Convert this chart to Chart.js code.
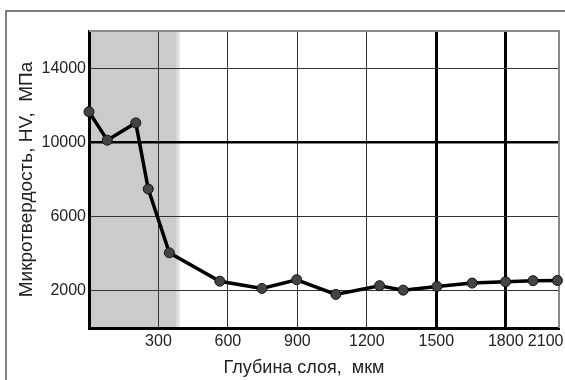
<!DOCTYPE html>
<html>
<head>
<meta charset="utf-8">
<script src="https://cdn.jsdelivr.net/npm/chart.js@4/dist/chart.umd.min.js"></script>
<style>
  html, body { margin: 0; padding: 0; background: #fff; }
</style>
</head>
<body>
<canvas id="hvChart" width="565" height="380"></canvas>
<script>
// depth of the layer, um, and microhardness HV, MPa
var depth    = [0, 79, 202, 256, 347, 565, 747, 897, 1066, 1255, 1357, 1503, 1655, 1799, 1918, 2023];
var hardness = [11650, 10120, 11050, 7490, 4050, 2520, 2130, 2600, 1810, 2280, 2040, 2240, 2420, 2490, 2550, 2560];

var xTicks = [300, 600, 900, 1200, 1500, 1800, 2100];
var yTicks = [2000, 6000, 10000, 14000];
var heavyX = [1500, 1800];
var heavyY = [10000];
var shadeEnd = 390;   // hardened layer boundary
var xMax = 2030;

Chart.defaults.font.family = '"Liberation Sans", Arial, sans-serif';
Chart.defaults.color = '#222';

// outer frame, grey hardened zone and top/right edges of the plot
var framePlugin = {
  id: 'frame',
  beforeDraw: function (chart) {
    var c = chart.ctx, a = chart.chartArea;
    c.save();
    c.strokeStyle = '#555';
    c.lineWidth = 1.5;
    c.beginPath();
    c.moveTo(6, chart.height);
    c.lineTo(6, 11);
    c.lineTo(chart.width, 11);
    c.stroke();

    var sx = chart.scales.x.getPixelForValue(shadeEnd);
    c.fillStyle = '#cbcbcb';
    c.fillRect(a.left, a.top, sx - a.left, a.bottom - a.top);
    c.fillStyle = '#dedede';
    c.fillRect(sx - 3, a.top, 3, a.bottom - a.top);
    c.restore();
  },
  beforeDatasetsDraw: function (chart) {
    var c = chart.ctx, a = chart.chartArea;
    c.save();
    c.strokeStyle = '#8a8a8a';
    c.lineWidth = 2;
    c.beginPath();
    c.moveTo(a.left, a.top);
    c.lineTo(a.right, a.top);
    c.lineTo(a.right, a.bottom);
    c.stroke();
    c.restore();
  }
};

var ctx = document.getElementById('hvChart').getContext('2d');
var chart = new Chart(ctx, {
  type: 'line',
  data: {
    datasets: [{
      data: depth.map(function (d, i) { return { x: d, y: hardness[i] }; }),
      borderColor: '#000',
      borderWidth: 3.5,
      tension: 0,
      pointRadius: 5,
      pointBackgroundColor: '#444',
      pointBorderColor: '#111',
      pointBorderWidth: 1,
      clip: false
    }]
  },
  options: {
    responsive: false,
    animation: false,
    layout: { padding: { top: 31, right: 5, left: 0, bottom: 0 } },
    plugins: {
      legend: { display: false },
      tooltip: { enabled: false }
    },
    scales: {
      x: {
        type: 'linear',
        min: 0,
        max: xMax,
        afterBuildTicks: function (scale) {
          scale.ticks = xTicks.map(function (v) { return { value: Math.min(v, xMax) }; });
        },
        afterFit: function (scale) {
          scale.height = 52;
          scale.paddingLeft = 0;
          scale.paddingRight = 0;
        },
        ticks: {
          autoSkip: false,
          maxRotation: 0,
          padding: 4,
          font: { size: 16 },
          color: '#222',
          callback: function (value, index) {
            var label = String(xTicks[index]);
            // last label sits left of the right edge
            return index === xTicks.length - 1 ? label + '\u2007\u2007\u2007' : label;
          }
        },
        grid: {
          drawTicks: false,
          color: function (c) { return c.tick && c.tick.value >= xMax ? 'rgba(0,0,0,0)' : (heavyX.indexOf(c.tick && c.tick.value) >= 0 ? '#000' : '#333'); },
          lineWidth: function (c) { return heavyX.indexOf(c.tick && c.tick.value) >= 0 ? 3 : 1; }
        },
        border: { color: '#000', width: 3 },
        title: {
          display: true,
          text: 'Глубина слоя,  мкм        ',
          font: { size: 18 },
          color: '#222',
          padding: { top: 0, bottom: 1 }
        }
      },
      y: {
        min: 0,
        max: 16000,
        afterBuildTicks: function (scale) {
          scale.ticks = yTicks.map(function (v) { return { value: v }; });
        },
        afterFit: function (scale) {
          scale.width = 89;
        },
        ticks: {
          padding: 3,
          font: { size: 16 },
          color: '#222',
          callback: function (value) { return String(value); }
        },
        grid: {
          drawTicks: false,
          color: function (c) { return heavyY.indexOf(c.tick && c.tick.value) >= 0 ? '#000' : '#333'; },
          lineWidth: function (c) { return heavyY.indexOf(c.tick && c.tick.value) >= 0 ? 2.5 : 1; }
        },
        border: { color: '#000', width: 3 },
        title: {
          display: true,
          text: 'Микротвердость, HV,  МПа',
          font: { size: 19 },
          color: '#222',
          padding: { top: 15, bottom: 0 }
        }
      }
    }
  },
  plugins: [framePlugin]
});
</script>
</body>
</html>
